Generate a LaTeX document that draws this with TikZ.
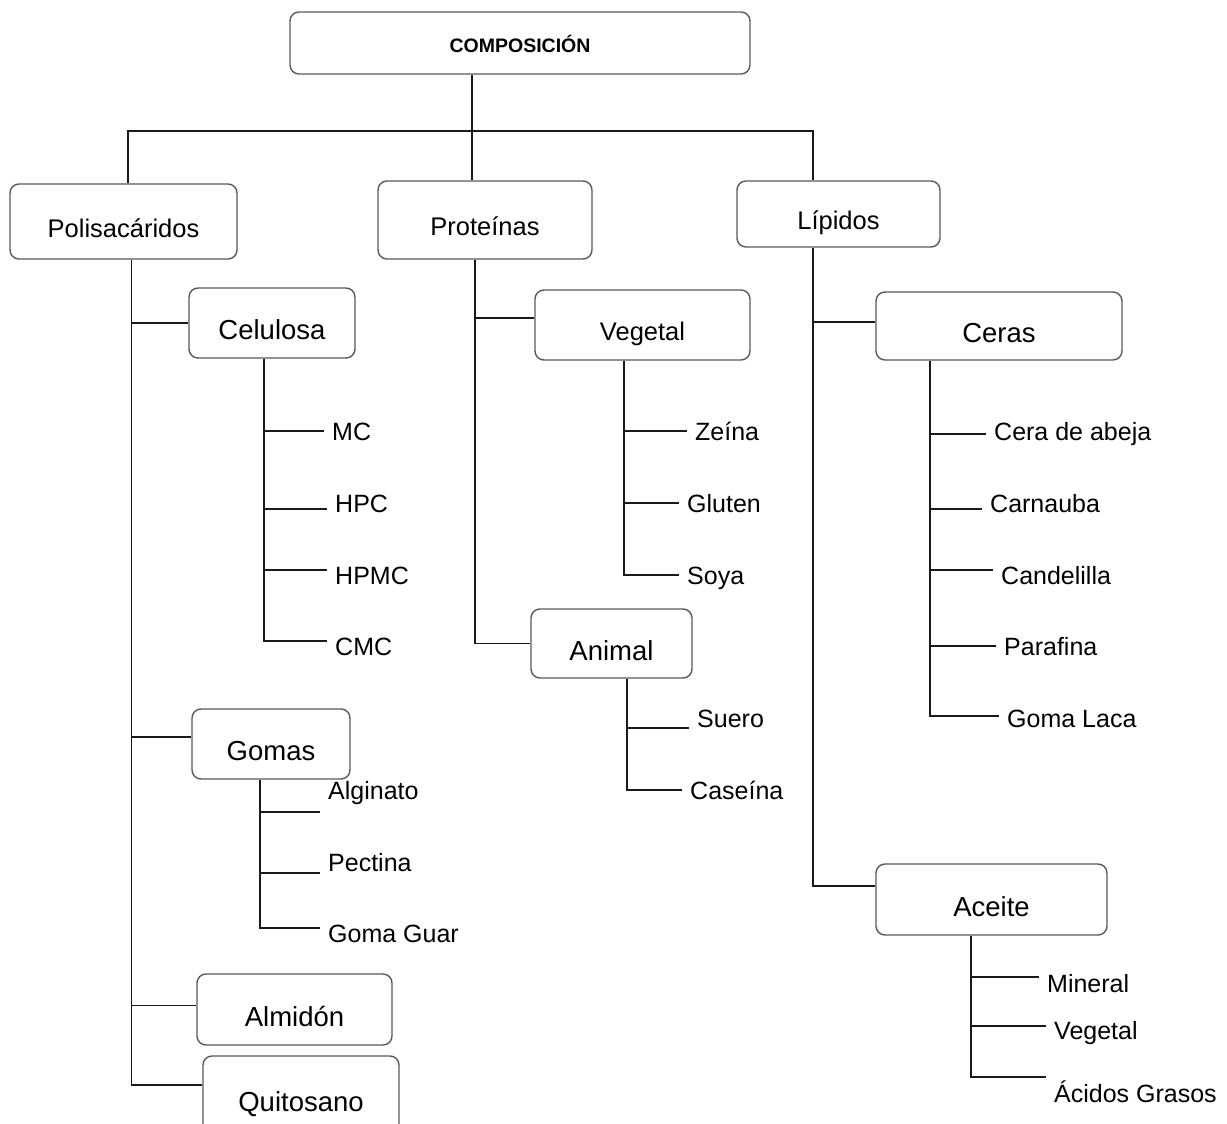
\documentclass[tikz,border=0pt]{standalone}
\usepackage{fontspec}
\setmainfont{Liberation Sans}
\begin{document}
\begin{tikzpicture}[x=1pt,y=-1pt]
\tikzstyle{group} = [rounded corners=9pt, draw=black!65, line width=1.4pt, inner sep=0pt, text height=33pt, text depth=0pt, font=\fontsize{27.5}{30}\selectfont]
\tikzstyle{groupsmall} = [group, font=\fontsize{25.5}{28}\selectfont, text height=31pt]
\tikzstyle{item} = [anchor=west, inner xsep=8pt, inner ysep=0pt, text height=18pt, text depth=0pt, font=\fontsize{25}{28}\selectfont]
\tikzstyle{line} = [draw=black!90, line width=1.5pt]

\useasboundingbox (0,0) rectangle (1227,1124);

% boxes
\node (Composicion) [group, minimum width=460pt, minimum height=62pt, text height=20pt, font=\fontsize{19.5}{22}\selectfont\bfseries] at (520,43) {COMPOSICIÓN};
\node (Polisacaridos) [groupsmall, minimum width=227pt, minimum height=75pt] at (123.5,221.5) {Polisacáridos};
\node (Proteinas) [groupsmall, minimum width=214pt, minimum height=78pt] at (485,220) {Proteínas};
\node (Lipidos) [groupsmall, minimum width=203pt, minimum height=66pt] at (838.5,214) {Lípidos};
\node (Celulosa) [group, minimum width=166pt, minimum height=70pt] at (272,323) {Celulosa};
\node (VegetalProt) [groupsmall, minimum width=215pt, minimum height=70pt] at (642.5,325) {Vegetal};
\node (Ceras) [group, minimum width=246pt, minimum height=68pt] at (999,326) {Ceras};
\node (Animal) [group, minimum width=161pt, minimum height=69pt] at (611.5,643.5) {Animal};
\node (Gomas) [group, minimum width=158pt, minimum height=70pt] at (271,744) {Gomas};
\node (Aceite) [group, minimum width=231pt, minimum height=71pt] at (991.5,899.5) {Aceite};
\node (Almidon) [group, minimum width=195pt, minimum height=71pt] at (294.5,1009.5) {Almidón};
\node (Quitosano) [group, minimum width=196pt, minimum height=78pt] at (301,1095) {Quitosano};

% leaves
\node (MC) [item] at (324,431) {MC};
\node (HPC) [item] at (327,503) {HPC};
\node (HPMC) [item] at (327,575) {HPMC};
\node (CMC) [item] at (327,646) {CMC};
\node (Zeina) [item] at (687,431) {Zeína};
\node (Gluten) [item] at (679,503) {Gluten};
\node (Soya) [item] at (679,575) {Soya};
\node (Suero) [item] at (689,718) {Suero};
\node (Caseina) [item] at (682,790) {Caseína};
\node (Alginato) [item] at (320,790) {Alginato};
\node (Pectina) [item] at (320,862) {Pectina};
\node (GomaGuar) [item] at (320,933) {Goma Guar};
\node (CeraAbeja) [item] at (986,431) {Cera de abeja};
\node (Carnauba) [item] at (982,503) {Carnauba};
\node (Candelilla) [item] at (993,575) {Candelilla};
\node (Parafina) [item] at (996,646) {Parafina};
\node (GomaLaca) [item] at (999,718) {Goma Laca};
\node (Mineral) [item] at (1039,983) {Mineral};
\node (VegetalAceite) [item] at (1046,1030) {Vegetal};
\node (AcidosGrasos) [item] at (1046,1093) {Ácidos Grasos};

\coordinate (Bus) at (472,131);

% first level
\draw [line] ([xshift=-48pt]Composicion.south) -- ([xshift=-13pt]Proteinas.north);
\draw [line] (Bus) -| ([xshift=4.5pt]Polisacaridos.north);
\draw [line] (Bus) -| ([xshift=-25.5pt]Lipidos.north);

% second level
\draw [line] ([xshift=8pt]Polisacaridos.south) |- (Celulosa.west);
\draw [line] ([xshift=8pt]Polisacaridos.south) |- ([yshift=7pt]Gomas.west);
\draw [line] ([xshift=8pt]Polisacaridos.south) |- ([yshift=4pt]Almidon.west);
\draw [line] ([xshift=8pt]Polisacaridos.south) |- ([yshift=10pt]Quitosano.west);
\draw [line] ([xshift=-10pt]Proteinas.south) |- ([yshift=7pt]VegetalProt.west);
\draw [line] ([xshift=-10pt]Proteinas.south) |- (Animal.west);
\draw [line] ([xshift=-25.5pt]Lipidos.south) |- ([yshift=4pt]Ceras.west);
\draw [line] ([xshift=-25.5pt]Lipidos.south) |- ([yshift=13.5pt]Aceite.west);

% third level
\draw [line] ([xshift=-8pt]Celulosa.south) |- (MC.west);
\draw [line] ([xshift=-8pt]Celulosa.south) |- ([yshift=-6pt]HPC.west);
\draw [line] ([xshift=-8pt]Celulosa.south) |- ([yshift=5pt]HPMC.west);
\draw [line] ([xshift=-8pt]Celulosa.south) |- ([yshift=5pt]CMC.west);
\draw [line] ([xshift=-18.5pt]VegetalProt.south) |- (Zeina.west);
\draw [line] ([xshift=-18.5pt]VegetalProt.south) |- (Gluten.west);
\draw [line] ([xshift=-18.5pt]VegetalProt.south) |- (Soya.west);
\draw [line] ([xshift=15.5pt]Animal.south) |- ([yshift=-10pt]Suero.west);
\draw [line] ([xshift=15.5pt]Animal.south) |- (Caseina.west);
\draw [line] ([xshift=-11pt]Gomas.south) |- ([yshift=-22pt]Alginato.west);
\draw [line] ([xshift=-11pt]Gomas.south) |- ([yshift=-11pt]Pectina.west);
\draw [line] ([xshift=-11pt]Gomas.south) |- ([yshift=5pt]GomaGuar.west);
\draw [line] ([xshift=-69pt]Ceras.south) |- ([yshift=-3pt]CeraAbeja.west);
\draw [line] ([xshift=-69pt]Ceras.south) |- ([yshift=-6pt]Carnauba.west);
\draw [line] ([xshift=-69pt]Ceras.south) |- ([yshift=5pt]Candelilla.west);
\draw [line] ([xshift=-69pt]Ceras.south) |- (Parafina.west);
\draw [line] ([xshift=-69pt]Ceras.south) |- ([yshift=2pt]GomaLaca.west);
\draw [line] ([xshift=-20.5pt]Aceite.south) |- ([yshift=6pt]Mineral.west);
\draw [line] ([xshift=-20.5pt]Aceite.south) |- ([yshift=4pt]VegetalAceite.west);
\draw [line] ([xshift=-20.5pt]Aceite.south) |- ([yshift=16pt]AcidosGrasos.west);

\end{tikzpicture}
\end{document}
